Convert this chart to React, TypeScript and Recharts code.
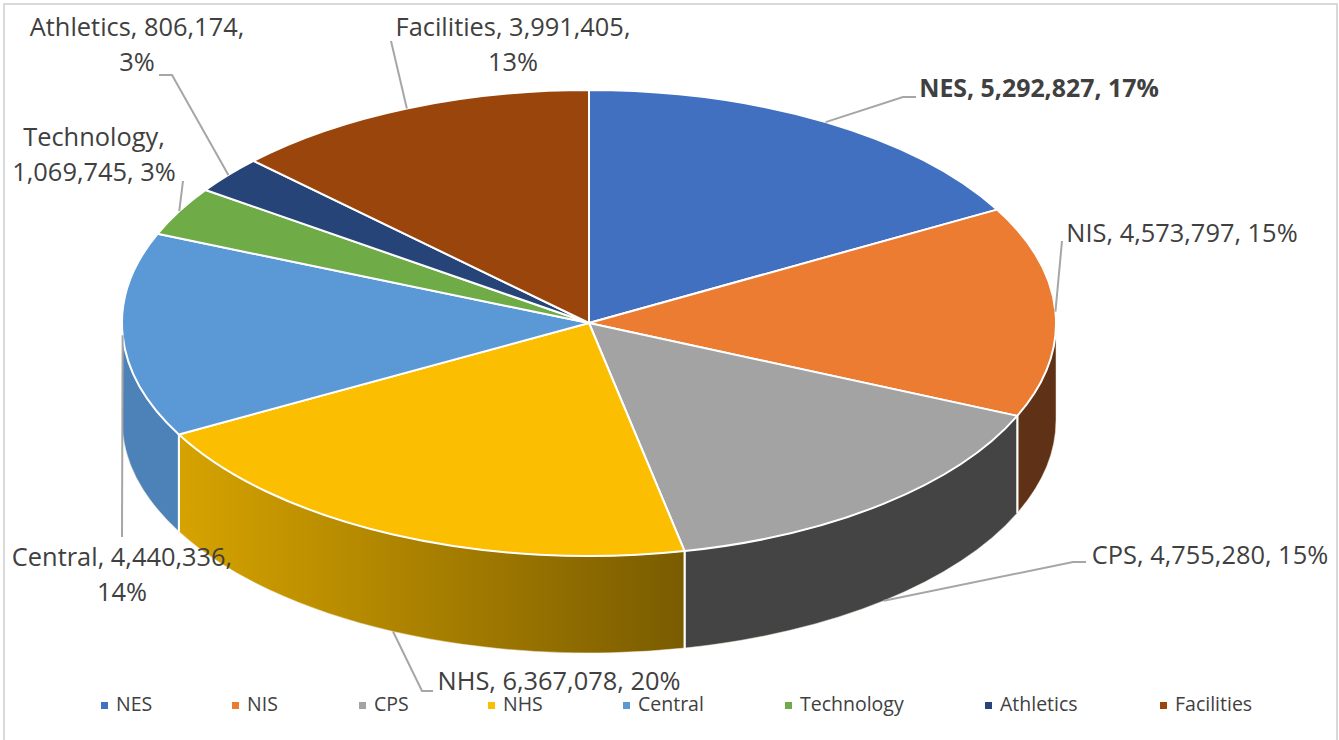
import { Legend, Pie, PieChart } from "recharts";

const names = ["NES", "NIS", "CPS", "NHS", "Central", "Technology", "Athletics", "Facilities"];
const amounts = [5292827, 4573797, 4755280, 6367078, 4440336, 1069745, 806174, 3991405];
const topColors = ["#4270c1", "#eb7c31", "#a3a3a3", "#fbbe00", "#5a99d6", "#6fac47", "#264478", "#9a450c"];
const wallFrom = ["#2f5597", "#5f3116", "#444444", "#d6a300", "#4d82b8", "#43682b", "#1a2e50", "#5f2c08"];
const wallTo = ["#2f5597", "#5f3116", "#444444", "#7a5c00", "#4d82b8", "#43682b", "#1a2e50", "#5f2c08"];

// pie geometry: the disc is squashed, so the library's angles get projected on an ellipse
const CX = 589;
const CY = 323;
const RX = 467;
const RY = 233;
const DEPTH = 97;

// label placement, in slice order
const labelCenterX = [1039, 1182, 1210, 559, 122, 94, 137, 513];
const labelBaseY = [97, 242, 564, 690, 566, 146, 36, 36];
const labelPartsOnFirstLine = [3, 3, 3, 3, 2, 1, 2, 2];
const labelOnWall = [false, false, true, true, false, false, false, false];
const leaderBends = [
  [[903, 97], [916, 97]],
  [[1062, 241]],
  [[1073, 562], [1086, 562]],
  [[422, 691], [433, 691]],
  [[122, 537]],
  [[183, 181]],
  [[172, 75], [159, 75]],
  [[391, 41]],
];
const legendLeft = [101, 232, 359, 488, 623, 785, 985, 1160];

const tableData = names.map((name, i) => ({
  name,
  value: amounts[i],
  fill: topColors[i],
  wallFrom: wallFrom[i],
  wallTo: wallTo[i],
}));

const rim = (deg: number, drop = 0) => {
  const a = (deg * Math.PI) / 180;
  return { x: CX + RX * Math.cos(a), y: CY - RY * Math.sin(a) + drop };
};

const TopSlice = (props: any) => {
  const { startAngle, endAngle, fill } = props;
  const p0 = rim(startAngle);
  const p1 = rim(endAngle);
  const large = startAngle - endAngle > 180 ? 1 : 0;
  const d = `M${CX},${CY}L${p0.x},${p0.y}A${RX},${RY} 0 ${large} 1 ${p1.x},${p1.y}Z`;
  return <path d={d} fill={fill} stroke="#fff" strokeWidth={2} strokeLinejoin="round" />;
};

// only the part of a slice facing the viewer (0 to -180 degrees) gets a side wall
const WallSlice = (props: any) => {
  const { startAngle, endAngle, name } = props;
  const a0 = Math.min(startAngle, 0);
  const a1 = Math.max(endAngle, -180);
  if (a0 <= a1) return <g />;
  const t0 = rim(a0);
  const t1 = rim(a1);
  const b0 = rim(a0, DEPTH);
  const b1 = rim(a1, DEPTH);
  const d = `M${t0.x},${t0.y}A${RX},${RY} 0 0 1 ${t1.x},${t1.y}L${b1.x},${b1.y}A${RX},${RY} 0 0 0 ${b0.x},${b0.y}Z`;
  const id = `wall-${name}`;
  return (
    <g>
      <defs>
        <linearGradient id={id} x1="0" y1="0" x2="1" y2="0">
          <stop offset="0" stopColor={props.wallFrom} />
          <stop offset="1" stopColor={props.wallTo} />
        </linearGradient>
      </defs>
      <path d={d} fill={`url(#${id})`} stroke="#f4ead6" strokeWidth={0.5} />
      {a0 === startAngle && <line x1={t0.x} y1={t0.y} x2={b0.x} y2={b0.y} stroke="#fff" strokeWidth={2} />}
      {a1 === endAngle && <line x1={t1.x} y1={t1.y} x2={b1.x} y2={b1.y} stroke="#fff" strokeWidth={2} />}
    </g>
  );
};

const renderLabel = (props: any) => {
  const { index, midAngle, name, value, percent } = props;
  const parts = [name, value.toLocaleString("en-US"), `${Math.round(percent * 100)}%`];
  const cut = labelPartsOnFirstLine[index];
  const first = parts.slice(0, cut).join(", ") + (cut < 3 ? "," : "");
  const second = parts.slice(cut).join(", ");
  const start = rim(midAngle, labelOnWall[index] ? DEPTH : 0);
  const points = [[start.x, start.y], ...leaderBends[index]].map((p) => p.join(",")).join(" ");
  return (
    <g>
      <polyline points={points} fill="none" stroke="#a6a6a6" strokeWidth={2} />
      <text
        textAnchor="middle"
        fontFamily="'Open Sans', sans-serif"
        fontSize={index === 0 ? 24.9 : 25.4}
        fontWeight={index === 0 ? 700 : 400}
        fill="#404040"
      >
        <tspan x={labelCenterX[index]} y={labelBaseY[index]}>
          {first}
        </tspan>
        {second && (
          <tspan x={labelCenterX[index]} y={labelBaseY[index] + 35}>
            {second}
          </tspan>
        )}
      </text>
    </g>
  );
};

// the legend payload comes sorted and holds both pies, so look entries up by name
const renderLegend = (props: any) => (
  <div style={{ position: "relative", height: 26, fontFamily: "'Open Sans', sans-serif", fontSize: 19.5, color: "#404040" }}>
    {names.map((name, i) => {
      const entry = (props.payload ?? []).find((item: any) => item.value === name);
      return (
        <span key={name} style={{ position: "absolute", left: legendLeft[i], top: 0, lineHeight: "26px", whiteSpace: "nowrap" }}>
          <span style={{ display: "inline-block", width: 7, height: 7, background: entry?.color ?? topColors[i], marginRight: 8, verticalAlign: "middle" }} />
          {name}
        </span>
      );
    })}
  </div>
);

export default function App() {
  return (
    <div style={{ position: "absolute", left: 0, top: 0, width: 1339, height: 740, overflow: "hidden", background: "#fff" }}>
      <div
        style={{
          position: "absolute",
          left: 3,
          top: 3,
          width: 1331,
          height: 740,
          border: "2px solid #d9d9d9",
          boxSizing: "content-box",
        }}
      />
      <PieChart width={1339} height={740} margin={{ top: 0, right: 0, bottom: 0, left: 0 }}>
        <Pie
          data={tableData}
          dataKey="value"
          nameKey="name"
          cx={CX}
          cy={CY}
          outerRadius={RX}
          startAngle={90}
          endAngle={-270}
          legendType="none"
          shape={WallSlice}
          isAnimationActive={false}
        />
        <Pie
          data={tableData}
          dataKey="value"
          nameKey="name"
          cx={CX}
          cy={CY}
          outerRadius={RX}
          startAngle={90}
          endAngle={-270}
          shape={TopSlice}
          label={renderLabel}
          labelLine={false}
          isAnimationActive={false}
        />
        <Legend
          content={renderLegend}
          verticalAlign="bottom"
          wrapperStyle={{ left: 0, bottom: 23, width: 1339 }}
        />
      </PieChart>
    </div>
  );
}
